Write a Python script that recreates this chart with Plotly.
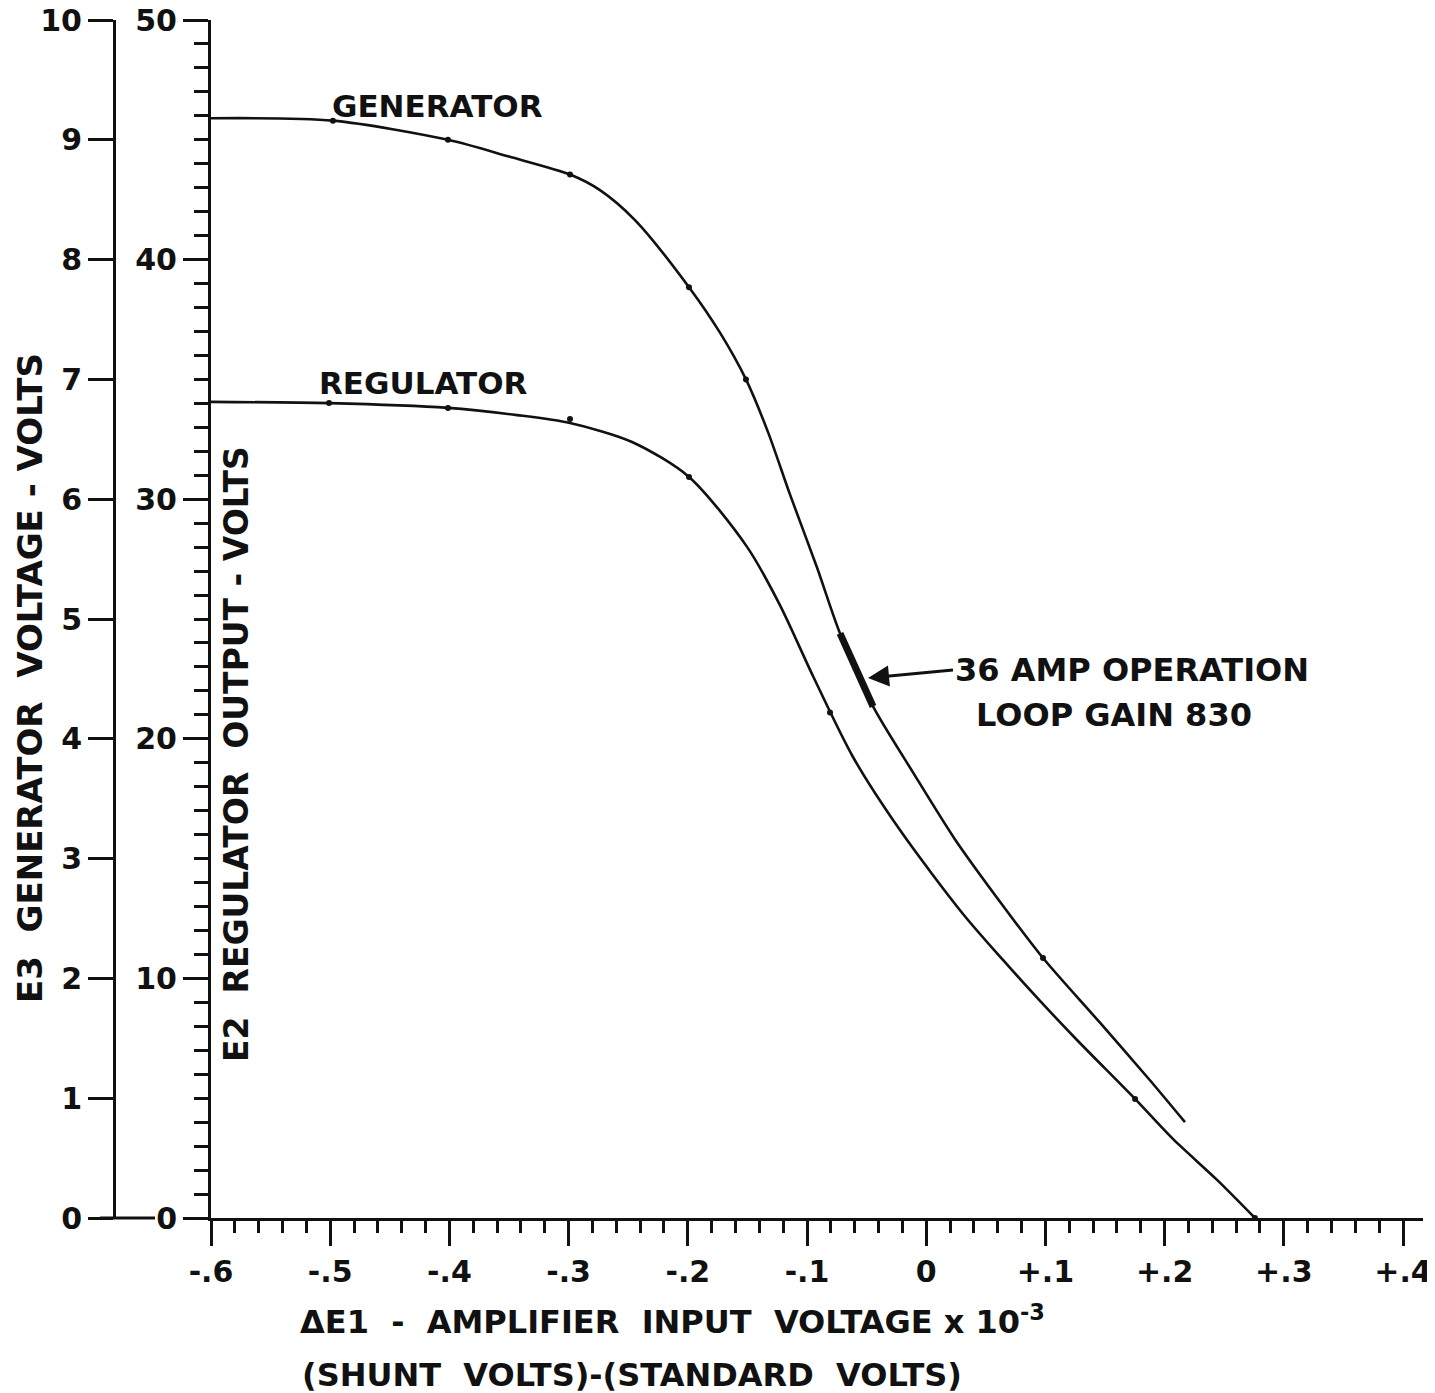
import plotly.graph_objects as go

# ---------------- data ----------------
# Amplifier input voltage (x 10^-3 V)
gen_x = [-0.600, -0.4977, -0.4012, -0.350, -0.2988, -0.2737, -0.2443, -0.199, -0.173,
         -0.1512, -0.1327, -0.1143, -0.0916, -0.0723, -0.0446, -0.0111, 0.0242, 0.0619,
         0.0980, 0.1458, 0.1877, 0.2171]
# E3 generator voltage (volts)
gen_y = [9.18, 9.16, 9.00, 8.86, 8.71, 8.58, 8.33, 7.77, 7.39,
         7.00, 6.56, 6.04, 5.43, 4.88, 4.27, 3.72, 3.16, 2.64,
         2.17, 1.63, 1.15, 0.80]

reg_x = [-0.600, -0.501, -0.4012, -0.3433, -0.2988, -0.2468, -0.199, -0.1503, -0.1227,
         -0.095, -0.0614, -0.022, 0.0309, 0.0644, 0.0955, 0.1265, 0.1752, 0.207,
         0.244, 0.2758]
# E2 regulator output (volts)
reg_y = [34.06, 34.01, 33.81, 33.51, 33.18, 32.39, 30.93, 28.01, 25.58,
         22.62, 19.24, 16.19, 12.69, 10.77, 9.06, 7.43, 4.97, 3.30,
         1.59, 0.0]

# plotted data points (dots)
gen_pts_x = [-0.4977, -0.4012, -0.2988, -0.199, -0.1512, 0.098]
gen_pts_y = [9.16, 9.00, 8.71, 7.77, 7.00, 2.17]
reg_pts_x = [-0.501, -0.4012, -0.2988, -0.199, -0.0807, 0.1752, 0.2758]
reg_pts_y = [34.01, 33.81, 33.35, 30.93, 21.1, 4.97, 0.0]

# 36 amp operating range (generator curve, E3 volts)
op_x = [-0.0723, -0.0581, -0.0446]
op_y = [4.88, 4.57, 4.27]

x_ticks = [-0.6, -0.5, -0.4, -0.3, -0.2, -0.1, 0.0, 0.1, 0.2, 0.3, 0.4]
x_ticklabels = ["-.6", "-.5", "-.4", "-.3", "-.2", "-.1", "0", "+.1", "+.2", "+.3", "+.4"]
e2_ticks = [0, 10, 20, 30, 40, 50]
e3_ticks = [0, 1, 2, 3, 4, 5, 6, 7, 8, 9, 10]

# ---------------- figure ----------------
W, H = 1435, 1393
OFF = 8  # page body margin offset of the figure
FONT = "DejaVu Sans"
INK = "#111111"


def px_x(p):
    return (p - OFF) / W


def px_y(p):
    return (H - (p - OFF)) / H


fig = go.Figure()

line_style = dict(color=INK, width=2.6, shape="spline", smoothing=0.8)
fig.add_trace(go.Scatter(x=reg_x, y=reg_y, mode="lines", line=line_style,
                         yaxis="y", hoverinfo="skip", showlegend=False))
fig.add_trace(go.Scatter(x=gen_x, y=gen_y, mode="lines", line=line_style,
                         yaxis="y2", hoverinfo="skip", showlegend=False))
fig.add_trace(go.Scatter(x=reg_pts_x, y=reg_pts_y, mode="markers", marker=dict(color=INK, size=6),
                         yaxis="y", hoverinfo="skip", showlegend=False))
fig.add_trace(go.Scatter(x=gen_pts_x, y=gen_pts_y, mode="markers", marker=dict(color=INK, size=6),
                         yaxis="y2", hoverinfo="skip", showlegend=False))
fig.add_trace(go.Scatter(x=op_x, y=op_y, mode="lines", line=dict(color=INK, width=7),
                         yaxis="y2", hoverinfo="skip", showlegend=False))

x0p, x1p = 211, 1423
ybot, ytop = 1218, 20
x_range_end = -0.6 + (x1p - x0p) / 1192.0

tickfont = dict(family=FONT, size=30, color=INK, weight="bold")

fig.update_layout(
    template="none",
    width=W, height=H,
    margin=dict(l=0, r=0, t=0, b=0, pad=0, autoexpand=False),
    paper_bgcolor="white", plot_bgcolor="white",
    showlegend=False,
    xaxis=dict(
        domain=[px_x(x0p), px_x(x1p)], range=[-0.6, x_range_end], automargin=False,
        tickvals=x_ticks, ticktext=x_ticklabels,
        ticks="outside", ticklen=25, tickwidth=3, tickcolor=INK,
        minor=dict(dtick=0.02, tick0=-0.6, ticks="outside", ticklen=12, tickwidth=2.5, tickcolor=INK),
        showline=True, linecolor=INK, linewidth=3,
        showgrid=False, zeroline=False, tickfont=tickfont, anchor="y",
        ticklabelstandoff=0, ticklabeloverflow="allow",
    ),
    yaxis=dict(
        domain=[px_y(ybot), px_y(ytop)], range=[0, 50], automargin=False,
        tickvals=e2_ticks, ticks="outside", ticklen=25, tickwidth=3, tickcolor=INK,
        minor=dict(dtick=1, tick0=0, ticks="outside", ticklen=14, tickwidth=2.5, tickcolor=INK),
        showline=True, linecolor=INK, linewidth=3,
        showgrid=False, zeroline=False, tickfont=tickfont, anchor="x",
        ticklabelstandoff=0, ticklabeloverflow="allow",
    ),
    yaxis2=dict(
        overlaying="y", anchor="free", position=px_x(114), side="left", automargin=False,
        range=[0, 10], tickvals=e3_ticks,
        ticks="outside", ticklen=25, tickwidth=3, tickcolor=INK,
        showline=True, linecolor=INK, linewidth=3,
        showgrid=False, zeroline=False, tickfont=tickfont,
        ticklabelstandoff=0, ticklabeloverflow="allow",
    ),
)

# extension of the baseline to the left of the E2 axis
fig.add_shape(type="line", xref="paper", yref="paper",
              x0=px_x(100), x1=px_x(155), y0=px_y(ybot), y1=px_y(ybot),
              line=dict(color=INK, width=3))

lab = dict(family=FONT, size=31, color=INK, weight="bold")
lab32 = dict(family=FONT, size=32, color=INK, weight="bold")

# curve labels
fig.add_annotation(x=-0.5003, y=46.4, xref="x", yref="y", text="GENERATOR", showarrow=False,
                   xanchor="left", yanchor="middle", font=lab)
fig.add_annotation(x=-0.511, y=34.85, xref="x", yref="y", text="REGULATOR", showarrow=False,
                   xanchor="left", yanchor="middle", font=lab)

# operating point annotation with arrow
fig.add_annotation(x=-0.0488, y=22.54, ax=0.0225, ay=22.87, xref="x", yref="y", axref="x", ayref="y",
                   text="36 AMP OPERATION", xanchor="left", yanchor="middle", font=lab32,
                   showarrow=True, arrowhead=2, arrowsize=1.4, arrowwidth=3, arrowcolor=INK, standoff=0)
fig.add_annotation(x=0.0404, y=21.0, xref="x", yref="y", text="LOOP GAIN 830", showarrow=False,
                   xanchor="left", yanchor="middle", font=lab32)

# axis titles
fig.add_annotation(x=px_x(30), y=px_y(678), xref="paper", yref="paper",
                   text="E3\u00a0 GENERATOR\u00a0 VOLTAGE - VOLTS", textangle=-90, showarrow=False,
                   xanchor="center", yanchor="middle", font=dict(family=FONT, size=34, color=INK, weight="bold"))
fig.add_annotation(x=px_x(236), y=px_y(754), xref="paper", yref="paper",
                   text="E2\u00a0 REGULATOR\u00a0 OUTPUT - VOLTS", textangle=-90, showarrow=False,
                   xanchor="center", yanchor="middle", font=dict(family=FONT, size=33, color=INK, weight="bold"))
fig.add_annotation(x=px_x(298), y=px_y(1320), xref="paper", yref="paper",
                   text="\u0394E1\u00a0 - \u00a0AMPLIFIER\u00a0 INPUT\u00a0 VOLTAGE x 10<sup>-3</sup>", showarrow=False,
                   xanchor="left", yanchor="middle", font=lab32)
fig.add_annotation(x=px_x(300), y=px_y(1375), xref="paper", yref="paper",
                   text="(SHUNT\u00a0 VOLTS)-(STANDARD\u00a0 VOLTS)", showarrow=False,
                   xanchor="left", yanchor="middle", font=lab32)

fig.write_html("out.html")
